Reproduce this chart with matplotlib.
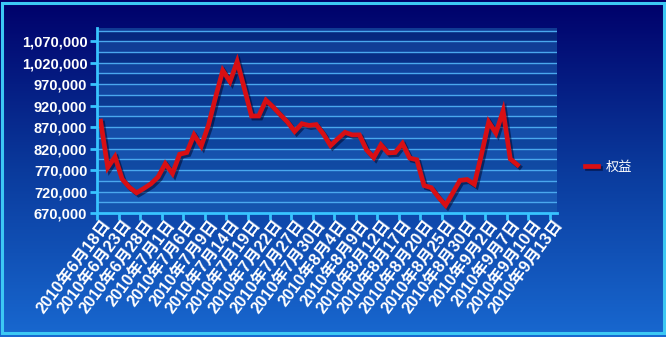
import numpy as np
import matplotlib
matplotlib.use("Agg")
import matplotlib.pyplot as plt
import matplotlib.patheffects as pe
from matplotlib.patches import Rectangle
from matplotlib.lines import Line2D
from matplotlib.colors import LinearSegmentedColormap

# ---- data ----
tick_labels = ["2010年6月18日", "2010年6月23日", "2010年6月28日", "2010年7月1日", "2010年7月6日",
               "2010年7月9日", "2010年7月14日", "2010年7月19日", "2010年7月22日", "2010年7月27日",
               "2010年7月30日", "2010年8月4日", "2010年8月9日", "2010年8月12日", "2010年8月17日",
               "2010年8月20日", "2010年8月25日", "2010年8月30日", "2010年9月2日", "2010年9月7日",
               "2010年9月10日", "2010年9月13日"]
equity = [884000, 776000, 801000, 749000, 730000, 717000, 727000, 738000, 754000, 785000,
          762000, 807000, 811000, 852000, 826000, 874000, 940000, 1002000, 976000, 1023000,
          960000, 896000, 896000, 933000, 917000, 899000, 882000, 860000, 878000, 874000,
          876000, 854000, 827000, 843000, 858000, 852000, 852000, 817000, 799000, 829000,
          810000, 811000, 832000, 798000, 794000, 734000, 729000, 707000, 688000, 717000,
          746000, 748000, 737000, 807000, 882000, 856000, 908000, 796000, 782000]
series_name = "权益"
y_ticks = [670000, 720000, 770000, 820000, 870000, 920000, 970000, 1020000, 1070000]

n_categories = 64
tick_step = 3

W, H = 666, 337
fig = plt.figure(figsize=(W / 100, H / 100), dpi=100)

# figure background gradient
bg = fig.add_axes([0, 0, 1, 1], zorder=-10)
grad = np.linspace(0, 1, 256).reshape(-1, 1)
cm_bg = LinearSegmentedColormap.from_list("bg", ["#00006a", "#0a3a9c", "#1868d0"])
bg.imshow(grad, aspect="auto", cmap=cm_bg, extent=[0, 1, 0, 1], origin="upper")
bg.set_xlim(0, 1); bg.set_ylim(0, 1)
bg.axis("off")
bg.add_patch(Rectangle((2 / W, 4 / H), 1 - 4 / W, 1 - 7 / H, fill=False,
                       edgecolor="#3cc8f4", linewidth=2.2, transform=bg.transAxes))

ax = fig.add_axes([97 / W, 1 - 213 / H, 460 / W, 185 / H])
ymin, ymax = 670000, 1101000
ax.set_xlim(0, n_categories)
ax.set_ylim(ymin, ymax)

cm_pl = LinearSegmentedColormap.from_list("pl", ["#06267c", "#0c3f98", "#1556b0"])
ax.imshow(grad, aspect="auto", cmap=cm_pl, extent=[0, n_categories, ymin, ymax],
          origin="upper", zorder=0)
levels = np.arange(ymin, ymax + 1, 25000)
for k, lv in enumerate(levels):
    top = min(lv + 25000, ymax)
    if k % 2 == 1:
        ax.axhspan(lv, top, color="#2a70d0", alpha=0.28, lw=0, zorder=1)
    if lv > ymin:
        ax.axhline(lv, color="#4aa8ee", lw=1.0, zorder=2)

x = np.arange(len(equity)) + 0.5
ax.plot(x, equity, color="#d80f14", lw=3.4, solid_joinstyle="miter", zorder=5,
        path_effects=[pe.SimpleLineShadow(offset=(1.5, -1.5), shadow_color="#000020", alpha=0.5),
                      pe.Normal()])

ax.set_yticks(y_ticks)
ax.set_yticklabels([f"{v:,}" for v in y_ticks])
ticks = np.arange(0, n_categories, tick_step)
ax.set_xticks(ticks)
ax.set_xticklabels([])
for i, lab in enumerate(tick_labels):
    ax.text(ticks[i] + 0.6, ymin - 10000, lab, rotation=53, ha="right", va="top",
            rotation_mode="anchor", color="white", fontsize=11.8, fontweight="bold",
            family=["Liberation Sans", "Noto Sans CJK SC"])

for s in ["top", "right"]:
    ax.spines[s].set_visible(False)
for s in ["left", "bottom"]:
    ax.spines[s].set_color("#38c4ff")
    ax.spines[s].set_linewidth(2)
    ax.spines[s].set_zorder(6)
ax.tick_params(axis="both", colors="#38c4ff", width=2, length=5, direction="out")
ax.tick_params(axis="y", labelcolor="white", pad=2)
for t in ax.get_yticklabels():
    t.set_fontweight("bold")
    t.set_fontsize(10.5)
    t.set_family("Liberation Sans")

handle = Line2D([0], [0], color="#d80f14", lw=3.4,
                path_effects=[pe.SimpleLineShadow(offset=(1.5, -1.5), shadow_color="#000020", alpha=0.5),
                              pe.Normal()])
leg = fig.legend([handle], [series_name], loc="center left",
                 bbox_to_anchor=(573 / W, 1 - 167 / H), frameon=False,
                 handlelength=1.0, handletextpad=0.6,
                 prop={"family": ["Noto Sans CJK SC"], "size": 9.5})
for t in leg.get_texts():
    t.set_color("white")

fig.savefig("out.png", dpi=100)
